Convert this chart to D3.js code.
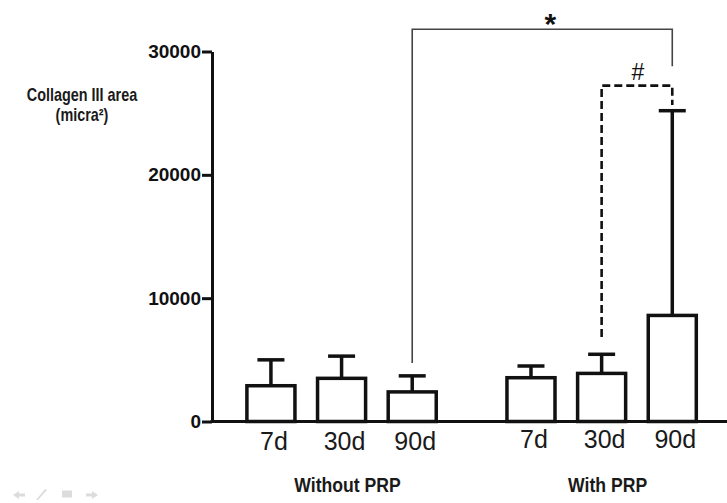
<!DOCTYPE html>
<html>
<head>
<meta charset="utf-8">
<script src="https://cdn.jsdelivr.net/npm/d3@7"></script>
<style>
  html, body { margin: 0; padding: 0; background: #fff; }
  svg { display: block; }
</style>
</head>
<body>
<script>
// ---- data ----
const groups = ["Without PRP", "With PRP"];
const days = ["7d", "30d", "90d"];
const withoutMean = [2900, 3500, 2400];
const withoutUpper = [5000, 5300, 3700];
const withMean = [3550, 3900, 8600];
const withUpper = [4500, 5450, 25200];
const yTicks = [0, 10000, 20000, 30000];
const yLabelLines = ["Collagen III area", "(micra²)"];
// significance brackets: [group,day] from -> to, levels in data units
const starBracket = { from: [0, 2], to: [1, 2], left: 4750, top: 31800, right: 28800, label: "*" };
const hashBracket = { from: [1, 1], to: [1, 2], left: 6850, top: 27230, right: 25670, label: "#" };

const W = 727, H = 503;
const svg = d3.select("body").append("svg").attr("width", W).attr("height", H);

const y = d3.scaleLinear().domain([0, 30000]).range([421.5, 51.5]);
const axisX = 212;

const gx = d3.scaleBand().domain(groups).range([235.6, 707.6]).paddingInner(0.185).paddingOuter(0);
const dx = d3.scaleBand().domain(days).range([0, gx.bandwidth()]).paddingInner(0.32).paddingOuter(0.16);
const cx = (g, d) => gx(groups[g]) + dx(days[d]) + dx.bandwidth() / 2;

const data = [];
groups.forEach((g, gi) => days.forEach((d, di) => {
  const mean = gi === 0 ? withoutMean[di] : withMean[di];
  const up = gi === 0 ? withoutUpper[di] : withUpper[di];
  data.push({ gi, di, g, d, mean, up });
}));

// helper: condensed text
function condText(sel, x, yy, txt, size, sx, weight) {
  sel.append("g").attr("transform", `translate(${x},${yy}) scale(${sx},1)`)
    .append("text").attr("text-anchor", "middle")
    .attr("font-family", "'Liberation Sans', Arial, sans-serif")
    .attr("font-weight", weight).attr("font-size", size).attr("fill", "#1a1a1a")
    .text(txt);
}

// y axis
const yAxis = d3.axisLeft(y).tickValues(yTicks).tickFormat(d3.format("d")).tickSize(10).tickSizeOuter(0).tickPadding(1);
const ya = svg.append("g").attr("transform", `translate(${axisX},0)`).call(yAxis);
ya.select(".domain").attr("stroke", "#111").attr("stroke-width", 3);
ya.selectAll(".tick line").attr("stroke", "#111").attr("stroke-width", 3);
ya.selectAll(".tick text").attr("font-family", "'Liberation Sans', Arial, sans-serif")
  .attr("font-weight", "bold").attr("font-size", 19).attr("fill", "#111");

// x axis line
svg.append("line").attr("x1", axisX - 1.5).attr("x2", W).attr("y1", y(0)).attr("y2", y(0))
  .attr("stroke", "#111").attr("stroke-width", 3);

// error bars
const eb = svg.append("g").attr("stroke", "#111").attr("stroke-width", 3.5).attr("fill", "none");
eb.selectAll("line.v").data(data).join("line").attr("class", "v")
  .attr("x1", d => cx(d.gi, d.di)).attr("x2", d => cx(d.gi, d.di))
  .attr("y1", d => y(d.mean)).attr("y2", d => y(d.up));
eb.selectAll("line.cap").data(data).join("line").attr("class", "cap")
  .attr("x1", d => cx(d.gi, d.di) - 13.5).attr("x2", d => cx(d.gi, d.di) + 13.5)
  .attr("y1", d => y(d.up)).attr("y2", d => y(d.up));

// bars
svg.append("g").selectAll("rect").data(data).join("rect")
  .attr("x", d => gx(d.g) + dx(d.d))
  .attr("width", dx.bandwidth())
  .attr("y", d => y(d.mean))
  .attr("height", d => y(0) - y(d.mean))
  .attr("fill", "#fff").attr("stroke", "#111").attr("stroke-width", 3.5);

// day labels
svg.append("g").selectAll("text").data(data).join("text")
  .attr("x", d => cx(d.gi, d.di) + 3)
  .attr("y", d => d.gi === 0 ? 450 : 447.5)
  .attr("text-anchor", "middle")
  .attr("font-family", "'Liberation Sans', Arial, sans-serif")
  .attr("font-size", 25).attr("fill", "#1a1a1a")
  .text(d => d.d);

// group labels
groups.forEach(g => condText(svg, gx(g) + gx.bandwidth() / 2 + 6, 491.5, g, 21, 0.84, "bold"));

// y label
yLabelLines.forEach((t, i) => condText(svg, 82, 100.7 + i * 20.5, t, 18, 0.8, "bold"));

// significance brackets
function bracket(b, dash, width, color) {
  const x1 = cx(b.from[0], b.from[1]), x2 = cx(b.to[0], b.to[1]);
  const p = d3.path();
  p.moveTo(x1, y(b.left)); p.lineTo(x1, y(b.top)); p.lineTo(x2, y(b.top)); p.lineTo(x2, y(b.right));
  svg.append("path").attr("d", p.toString()).attr("fill", "none")
    .attr("stroke", color).attr("stroke-width", width)
    .attr("stroke-dasharray", dash);
  return [x1, x2];
}
const s = bracket(starBracket, null, 1.6, "#444");
svg.append("text").attr("x", (s[0] + s[1]) / 2 + 8).attr("y", y(starBracket.top) + 5)
  .attr("text-anchor", "middle").attr("font-family", "'Liberation Sans', Arial, sans-serif")
  .attr("font-weight", "bold").attr("font-size", 30).attr("fill", "#111").text(starBracket.label);
const h = bracket(hashBracket, "8,4", 2.6, "#111");
svg.append("text").attr("x", (h[0] + h[1]) / 2 + 1).attr("y", y(hashBracket.top) - 6)
  .attr("text-anchor", "middle").attr("font-family", "'Liberation Sans', Arial, sans-serif")
  .attr("font-size", 23).attr("fill", "#111").text(hashBracket.label);

// faint navigation icons (decorative)
const nav = svg.append("g").attr("fill", "#dcdcdc").attr("stroke", "none");
nav.append("path").attr("d", "M13,495 L19,491 L19,493.5 L25,493.5 L25,496.5 L19,496.5 L19,499 Z");
nav.append("path").attr("d", "M36,500 L45,489 L47,490 L38,500 Z");
nav.append("rect").attr("x", 62).attr("y", 490.5).attr("width", 10).attr("height", 7);
nav.append("path").attr("d", "M98,495 L92,491 L92,493.5 L86,493.5 L86,496.5 L92,496.5 L92,499 Z");
</script>
</body>
</html>
